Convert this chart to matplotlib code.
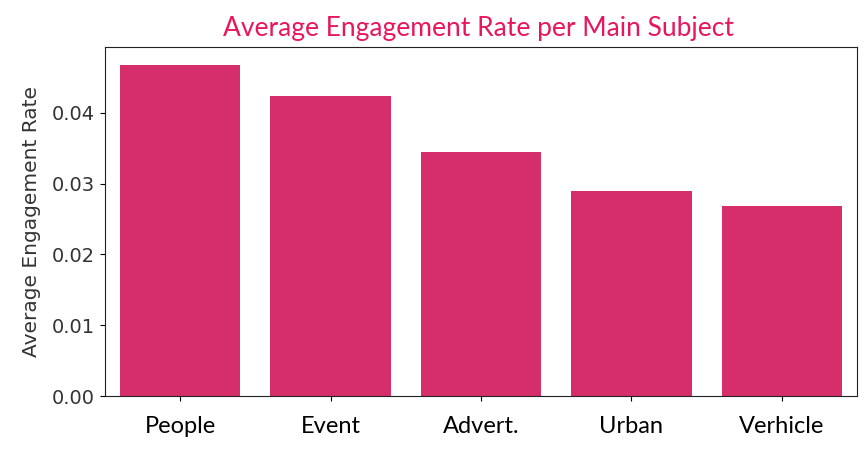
import matplotlib
matplotlib.use("Agg")
import matplotlib.pyplot as plt

subjects = ["People", "Event", "Advert.", "Urban", "Verhicle"]
engagement = [0.0468, 0.0424, 0.0344, 0.0290, 0.0269]

fig = plt.figure(figsize=(8.66, 4.49), dpi=100)
ax = fig.add_axes([0.1212, 0.118, 0.8684, 0.7773])

ax.bar(range(len(subjects)), engagement, width=0.8, color="#d62e6a")
ax.set_xlim(-0.5, len(subjects) - 0.5)
ax.set_ylim(0, 0.0493)
ax.set_yticks([0.0, 0.01, 0.02, 0.03, 0.04])
ax.set_yticklabels(["0.00", "0.01", "0.02", "0.03", "0.04"], color="#333333", fontsize=14)
ax.set_xticks(range(len(subjects)))
ax.set_xticklabels(subjects, family="Lato", fontsize=17, color="black")
ax.tick_params(axis="x", pad=11)
ax.set_ylabel("Average Engagement Rate", fontsize=14.5, color="#333333", labelpad=8)
for s in ax.spines.values():
    s.set_color("#222222")
fig.text(0.553, 0.937, "Average Engagement Rate per Main Subject", family="Lato",
         fontsize=19, color="#e8175d", ha="center", va="center")

fig.savefig("out.png", dpi=100)
